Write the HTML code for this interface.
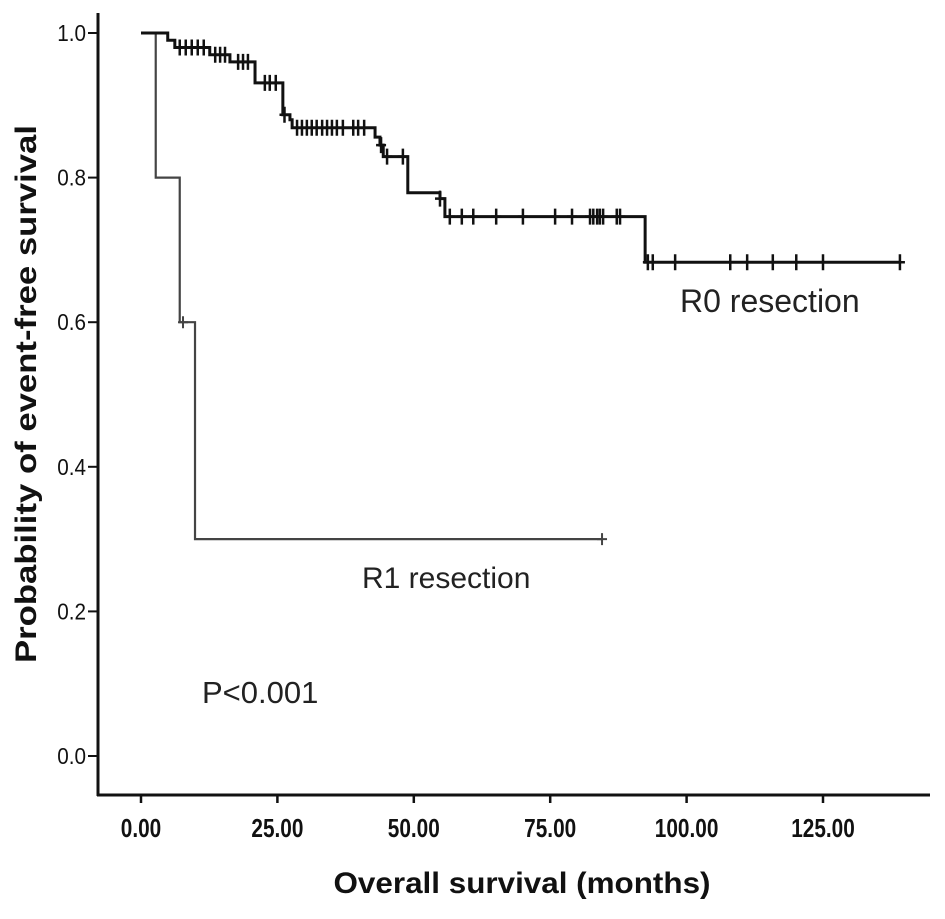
<!DOCTYPE html>
<html><head><meta charset="utf-8">
<style>
html,body{margin:0;padding:0;background:#fff;}
svg{display:block;}
text{font-family:"Liberation Sans",Arial,sans-serif;}
</style></head>
<body>
<svg id="chart" width="945" height="919" viewBox="0 0 945 919">
  <g id="axes"></g>
  <g id="plot"></g>
  <text x="28" y="394" transform="rotate(-90 28 394)" text-anchor="middle" dominant-baseline="middle" font-weight="bold" font-size="30" textLength="538" lengthAdjust="spacingAndGlyphs" fill="#111">Probability of event-free survival</text>
  <text x="522" y="893" text-anchor="middle" font-weight="bold" font-size="30" textLength="377" lengthAdjust="spacingAndGlyphs" fill="#111">Overall survival (months)</text>
  <text x="680" y="312" font-size="32" fill="#222">R0 resection</text>
  <text x="362" y="588" font-size="30" fill="#222">R1 resection</text>
  <text x="202" y="703" font-size="31" fill="#222">P&lt;0.001</text>
</svg>
<script>
const xTicks = [0, 25, 50, 75, 100, 125];
const xTickLabels = ["0.00", "25.00", "50.00", "75.00", "100.00", "125.00"];
const yTicks = [0, 0.2, 0.4, 0.6, 0.8, 1.0];
const yTickLabels = ["0.0", "0.2", "0.4", "0.6", "0.8", "1.0"];

const r0StepTimes = [0, 4.9, 6.2, 12.6, 16.3, 20.9, 26.0, 27.3, 27.7, 42.9, 43.8, 44.4, 48.9, 54.8, 55.7, 92.4];
const r0StepSurv  = [1.0, 0.99, 0.98, 0.97, 0.96, 0.931, 0.887, 0.88, 0.869, 0.856, 0.845, 0.829, 0.779, 0.771, 0.746, 0.683];
const r0EndTime = 139.1;
const r0CensorTimes = [7.1, 8.2, 9.3, 10.4, 11.5, 13.6, 14.5, 15.4, 17.8, 18.7, 19.6, 22.7, 23.6, 24.7, 26.3,
  28.6, 29.5, 30.4, 31.3, 32.2, 33.2, 34.1, 35.0, 35.9, 37.0, 38.9, 39.8, 40.9, 44.0, 45.1, 48.0, 54.8,
  56.6, 58.8, 60.9, 65.1, 70.0, 75.9, 79.0, 82.3, 82.9, 83.6, 84.1, 84.7, 87.2, 87.8,
  92.9, 93.8, 97.9, 108.0, 111.1, 115.8, 120.1, 125.0, 139.1];

const r1StepTimes = [0, 2.7, 7.1, 9.9];
const r1StepSurv  = [1.0, 0.8, 0.6, 0.3];
const r1EndTime = 84.5;
const r1CensorTimes = [7.7, 84.5];

const NS = "http://www.w3.org/2000/svg";
function xScale(t){ return 141 + t * 5.456; }
function yScale(s){ return 756 - s * 723; }
function survAt(times, surv, t){
  let v = surv[0];
  for (let i = 0; i < times.length; i++) if (times[i] <= t) v = surv[i];
  return v;
}
function mk(tag, attrs, parent){
  const e = document.createElementNS(NS, tag);
  for (const k in attrs) e.setAttribute(k, attrs[k]);
  parent.appendChild(e);
  return e;
}
const axes = document.getElementById('axes');
const plot = document.getElementById('plot');

const yAxis = mk('line', {x1: 98, y1: 13, x2: 98, y2: 796, stroke: '#111', 'stroke-width': 3}, axes);


const xAxis = mk('line', {x1: 97, y1: 795, x2: 930, y2: 795, stroke: '#111', 'stroke-width': 3}, axes);



xTicks.forEach((v, i) => {
  const x = xScale(v);
  const tk = mk('line', {x1: x, y1: 795, x2: x, y2: 803, stroke: '#111', 'stroke-width': 2.5}, axes);
  
  
  const lb = mk('text', {x: x, y: 837, 'text-anchor': 'middle', 'font-size': 26, 'font-weight': 'bold', fill: '#111',
    transform: `translate(${x} 0) scale(0.8 1) translate(${-x} 0)`}, axes);
  lb.textContent = xTickLabels[i];
  
  
});
yTicks.forEach((v, i) => {
  const y = yScale(v);
  const tk = mk('line', {x1: 88, y1: y, x2: 98, y2: y, stroke: '#111', 'stroke-width': 2}, axes);
  
  
  const lb = mk('text', {x: 86, y: y + 8, 'text-anchor': 'end', 'font-size': 23, fill: '#111',
    transform: `translate(86 0) scale(0.9 1) translate(-86 0)`}, axes);
  lb.textContent = yTickLabels[i];
  
  
});

function stepPath(times, surv, endT){
  let d = `M${xScale(times[0])},${yScale(surv[0])}`;
  for (let i = 1; i < times.length; i++){
    d += ` H${xScale(times[i])} V${yScale(surv[i])}`;
  }
  d += ` H${xScale(endT)}`;
  return d;
}

const r1 = mk('path', {d: stepPath(r1StepTimes, r1StepSurv, r1EndTime), fill: 'none', stroke: '#444', 'stroke-width': 2.2}, plot);


r1CensorTimes.forEach(t => {
  const x = xScale(t), y = yScale(survAt(r1StepTimes, r1StepSurv, t));
  const c = mk('path', {d: `M${x},${y-6} V${y+6} M${x-5},${y} H${x+5}`, stroke: '#444', 'stroke-width': 2}, plot);
  
  
});

const r0 = mk('path', {d: stepPath(r0StepTimes, r0StepSurv, r0EndTime), fill: 'none', stroke: '#111', 'stroke-width': 3}, plot);


r0CensorTimes.forEach(t => {
  const x = xScale(t), y = yScale(survAt(r0StepTimes, r0StepSurv, t));
  const c = mk('path', {d: `M${x},${y-8} V${y+8} M${x-5},${y} H${x+5}`, stroke: '#111', 'stroke-width': 2.5}, plot);
  
  
});
</script>
</body></html>
